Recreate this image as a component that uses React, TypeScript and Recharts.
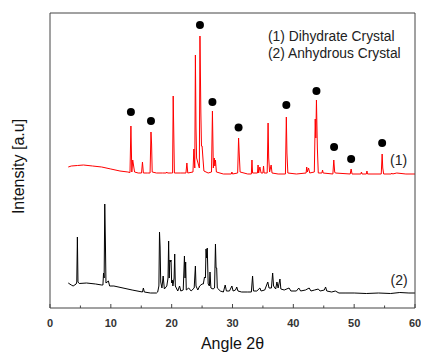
import { ComposedChart, Line, Scatter, XAxis, YAxis } from 'recharts'

// 2θ, intensity (a.u., already offset for stacking)
const dihydrate: [number, number][] = [
  [3.0, 141], [3.5, 142], [4.5, 142.5], [5.5, 143], [7.0, 142], [8.5, 141], [10.0, 139], [11.5, 137], [12.8, 136],
  [13.15, 135.5], [13.3, 182], [13.45, 136], [13.6, 148], [13.75, 142], [13.9, 136], [14.5, 135],
  [15.05, 135], [15.2, 146], [15.35, 135],
  [16.0, 135], [16.45, 135], [16.6, 176], [16.7, 164], [16.8, 136], [17.5, 135],
  [18.5, 135], [19.1, 135], [19.2, 136], [19.3, 135], [20.0, 135], [20.15, 135], [20.25, 212], [20.35, 174], [20.45, 135],
  [21.5, 135], [22.35, 135], [22.5, 145], [22.65, 135],
  [23.5, 136], [23.65, 159], [23.8, 140], [23.9, 253], [24.0, 180], [24.1, 150], [24.55, 140], [24.65, 272], [24.8, 195],
  [24.9, 162], [25.0, 162], [25.15, 149], [25.3, 137],
  [26.0, 135], [26.55, 136], [26.7, 197], [26.85, 140], [27.0, 150], [27.1, 142], [27.2, 148], [27.35, 136],
  [28.5, 134], [29.8, 134], [29.9, 136], [30.0, 134], [30.85, 135], [31.0, 170], [31.1, 155], [31.25, 136],
  [32.5, 134], [33.1, 134], [33.2, 148], [33.3, 135], [34.1, 135], [34.2, 143], [34.3, 135], [34.5, 141], [34.7, 135],
  [35.0, 135], [35.1, 142], [35.2, 135], [35.7, 135], [35.85, 185], [35.95, 150], [36.1, 136], [36.35, 143], [36.5, 135],
  [37.5, 134], [38.7, 134], [38.85, 191], [38.95, 155], [39.1, 135],
  [40.5, 134], [42.1, 135], [42.2, 141], [42.3, 136], [42.5, 140], [42.7, 135], [43.45, 136], [43.6, 189], [43.7, 170],
  [43.8, 208], [43.95, 160], [44.1, 135], [44.7, 135], [44.8, 138], [44.9, 135],
  [46.5, 134], [46.65, 148], [46.8, 136], [46.9, 135],
  [49.35, 134], [49.5, 139], [49.65, 134],
  [51.1, 134], [51.2, 136], [51.3, 134], [52.0, 134], [52.1, 137], [52.2, 134],
  [54.45, 134], [54.6, 154], [54.7, 140], [54.85, 134],
  [56.1, 134], [56.2, 135], [56.3, 134], [57.0, 135], [58.5, 134], [60.0, 134],
]

const anhydrous: [number, number][] = [
  [3.0, 25], [3.5, 23], [3.8, 22], [4.3, 24], [4.4, 26], [4.5, 71], [4.6, 26], [4.8, 24.5], [6.0, 25], [7.5, 24],
  [8.5, 23], [8.7, 23], [8.8, 35], [8.9, 30], [9.0, 104], [9.1, 70], [9.2, 25], [9.6, 27], [9.8, 22], [10.5, 22],
  [12.0, 20], [13.5, 18], [15.2, 16], [15.35, 20], [15.5, 16], [16.5, 15], [17.5, 15], [17.7, 16], [17.9, 22],
  [18.0, 76], [18.1, 61], [18.2, 26], [18.4, 20], [18.6, 32], [18.8, 19], [19.2, 22], [19.4, 30], [19.5, 67],
  [19.6, 30], [19.7, 48], [19.8, 46], [19.9, 48], [20.0, 25], [20.1, 28], [20.2, 22], [20.4, 30], [20.5, 54],
  [20.6, 22], [21.0, 17], [21.3, 22], [21.5, 17], [21.9, 18], [22.1, 52], [22.2, 30], [22.3, 46], [22.4, 18],
  [22.8, 20], [23.2, 17], [23.7, 20], [23.9, 42], [24.0, 22], [24.3, 18], [24.6, 22], [25.0, 24], [25.2, 24],
  [25.4, 31], [25.55, 30], [25.65, 59], [25.75, 50], [25.85, 60], [26.0, 24], [26.2, 22], [26.3, 36], [26.45, 20],
  [26.8, 19], [27.05, 20], [27.2, 64], [27.3, 40], [27.4, 40], [27.5, 20], [28.0, 17], [28.5, 16], [28.8, 23],
  [29.0, 17], [29.5, 17], [29.9, 22], [30.1, 17], [30.5, 18], [30.7, 21], [30.9, 17], [31.5, 16], [32.5, 16],
  [33.1, 16], [33.3, 32], [33.45, 17], [34.0, 17], [34.5, 20], [34.7, 17], [35.3, 18], [35.8, 26], [36.0, 20],
  [36.4, 20], [36.6, 35], [36.75, 22], [37.1, 19], [37.3, 26], [37.5, 20], [37.8, 29], [37.95, 19], [38.5, 18],
  [39.3, 20], [39.6, 17], [40.5, 17], [40.9, 20], [41.2, 17], [42.0, 18], [42.6, 20], [42.9, 17], [43.5, 18],
  [44.1, 19], [44.4, 17], [45.1, 18], [45.3, 21], [45.5, 17], [46.3, 16], [46.9, 17], [47.5, 15], [48.5, 15],
  [50.0, 15], [52.0, 14.5], [54.0, 15], [56.0, 14.5], [57.5, 15.5], [59.0, 15], [60.0, 15],
]

// peak markers above the dihydrate pattern
const markers: [number, number][] = [
  [13.3, 196], [16.6, 187], [24.65, 283], [26.7, 206], [31.0, 180.5],
  [38.85, 203], [43.8, 217], [46.7, 161], [49.5, 149], [54.6, 165],
]

const xTicks = [0, 5, 10, 15, 20, 25, 30, 35, 40, 45, 50, 55, 60]

const toPoints = (arr: [number, number][]) => arr.map(([x, y]) => ({ x, y }))

const FONT = '"Liberation Sans", Arial, sans-serif'
const AXIS = '#444'

const XTick = (props: any) => {
  const { x, y, payload } = props
  const major = payload.value % 10 === 0
  return (
    <g>
      <line x1={x} x2={x} y1={y} y2={y - (major ? 4 : 2.5)} stroke={AXIS} />
      {major && (
        <text x={x} y={y + 19} textAnchor="middle" fontSize={11} fontWeight="bold" fill="#333" fontFamily={FONT}>
          {payload.value}
        </text>
      )}
    </g>
  )
}

export default function App() {
  return (
    <div style={{ position: 'absolute', left: 0, top: 0, width: 421, height: 352 }}>
      <ComposedChart width={421} height={352} margin={{ top: 12, right: 5, bottom: 14, left: 49 }}>
        <XAxis
          dataKey="x"
          type="number"
          domain={[0, 60]}
          ticks={xTicks}
          height={30}
          tickSize={0}
          tickMargin={0}
          tickLine={false}
          tick={<XTick />}
          axisLine={{ stroke: AXIS }}
          interval={0}
        />
        <XAxis xAxisId="top" orientation="top" type="number" domain={[0, 60]} height={1} tick={false} tickLine={false} axisLine={{ stroke: AXIS }} />
        <YAxis type="number" domain={[0, 295]} width={1} tick={false} tickLine={false} axisLine={{ stroke: AXIS }} />
        <YAxis yAxisId="right" orientation="right" type="number" domain={[0, 295]} width={1} tick={false} tickLine={false} axisLine={{ stroke: AXIS }} />
        <Line data={toPoints(anhydrous)} dataKey="y" stroke="#000" strokeWidth={1} dot={false} isAnimationActive={false} />
        <Line data={toPoints(dihydrate)} dataKey="y" stroke="#ff0000" strokeWidth={1} dot={false} isAnimationActive={false} />
        <Scatter
          data={toPoints(markers)}
          dataKey="y"
          fill="#000"
          isAnimationActive={false}
          shape={(p: any) => <circle cx={p.cx} cy={p.cy} r={4} fill="#000" />}
        />
      </ComposedChart>
      <svg width={421} height={352} style={{ position: 'absolute', left: 0, top: 0, pointerEvents: 'none' }} fontFamily={FONT}>
        <text x={268} y={41} fontSize={13.8} fill="#222">(1) Dihydrate Crystal</text>
        <text x={268} y={57.5} fontSize={13.8} fill="#222">(2) Anhydrous Crystal</text>
        <text x={390} y={164.5} fontSize={14} fill="#222">(1)</text>
        <text x={390.5} y={285} fontSize={14} fill="#222">(2)</text>
        <text x={232.5} y={348.5} fontSize={16} textAnchor="middle" fill="#111">Angle 2θ</text>
        <text x={23.5} y={166.5} fontSize={16} textAnchor="middle" fill="#111" transform="rotate(-90 23.5 166.5)">
          Intensity [a.u]
        </text>
      </svg>
    </div>
  )
}
